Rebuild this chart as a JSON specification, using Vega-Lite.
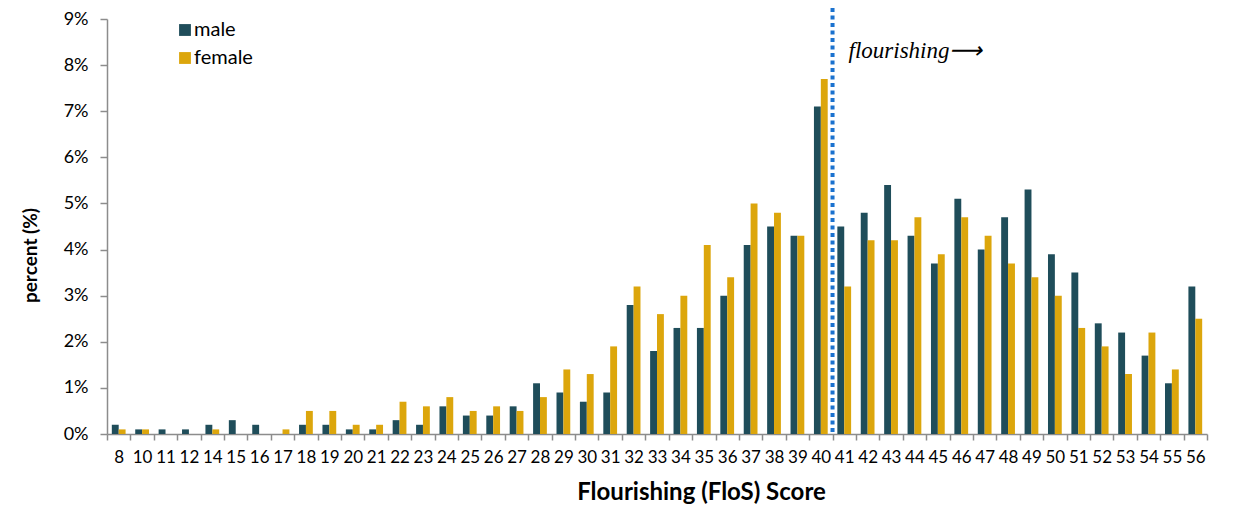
{
  "$schema": "https://vega.github.io/schema/vega-lite/v6.json",
  "width": 1100,
  "height": 415,
  "autosize": {"type": "none"},
  "padding": {"left": 107, "top": 19, "right": 26, "bottom": 73},
  "background": "white",
  "config": {
    "font": "Lato",
    "view": {"stroke": null},
    "axis": {"labelFont": "Lato", "titleFont": "Lato", "labelColor": "#000000", "titleColor": "#000000", "domainColor": "#8c8c8c", "tickColor": "#8c8c8c", "domainWidth": 1.5, "tickWidth": 1.5}
  },
  "datasets": {
    "bars": [
      {"score": "8", "sex": "male", "pct": 0.2}, {"score": "8", "sex": "female", "pct": 0.1},
      {"score": "10", "sex": "male", "pct": 0.1}, {"score": "10", "sex": "female", "pct": 0.1},
      {"score": "11", "sex": "male", "pct": 0.1}, {"score": "11", "sex": "female", "pct": 0.0},
      {"score": "12", "sex": "male", "pct": 0.1}, {"score": "12", "sex": "female", "pct": 0.0},
      {"score": "14", "sex": "male", "pct": 0.2}, {"score": "14", "sex": "female", "pct": 0.1},
      {"score": "15", "sex": "male", "pct": 0.3}, {"score": "15", "sex": "female", "pct": 0.0},
      {"score": "16", "sex": "male", "pct": 0.2}, {"score": "16", "sex": "female", "pct": 0.0},
      {"score": "17", "sex": "male", "pct": 0.0}, {"score": "17", "sex": "female", "pct": 0.1},
      {"score": "18", "sex": "male", "pct": 0.2}, {"score": "18", "sex": "female", "pct": 0.5},
      {"score": "19", "sex": "male", "pct": 0.2}, {"score": "19", "sex": "female", "pct": 0.5},
      {"score": "20", "sex": "male", "pct": 0.1}, {"score": "20", "sex": "female", "pct": 0.2},
      {"score": "21", "sex": "male", "pct": 0.1}, {"score": "21", "sex": "female", "pct": 0.2},
      {"score": "22", "sex": "male", "pct": 0.3}, {"score": "22", "sex": "female", "pct": 0.7},
      {"score": "23", "sex": "male", "pct": 0.2}, {"score": "23", "sex": "female", "pct": 0.6},
      {"score": "24", "sex": "male", "pct": 0.6}, {"score": "24", "sex": "female", "pct": 0.8},
      {"score": "25", "sex": "male", "pct": 0.4}, {"score": "25", "sex": "female", "pct": 0.5},
      {"score": "26", "sex": "male", "pct": 0.4}, {"score": "26", "sex": "female", "pct": 0.6},
      {"score": "27", "sex": "male", "pct": 0.6}, {"score": "27", "sex": "female", "pct": 0.5},
      {"score": "28", "sex": "male", "pct": 1.1}, {"score": "28", "sex": "female", "pct": 0.8},
      {"score": "29", "sex": "male", "pct": 0.9}, {"score": "29", "sex": "female", "pct": 1.4},
      {"score": "30", "sex": "male", "pct": 0.7}, {"score": "30", "sex": "female", "pct": 1.3},
      {"score": "31", "sex": "male", "pct": 0.9}, {"score": "31", "sex": "female", "pct": 1.9},
      {"score": "32", "sex": "male", "pct": 2.8}, {"score": "32", "sex": "female", "pct": 3.2},
      {"score": "33", "sex": "male", "pct": 1.8}, {"score": "33", "sex": "female", "pct": 2.6},
      {"score": "34", "sex": "male", "pct": 2.3}, {"score": "34", "sex": "female", "pct": 3.0},
      {"score": "35", "sex": "male", "pct": 2.3}, {"score": "35", "sex": "female", "pct": 4.1},
      {"score": "36", "sex": "male", "pct": 3.0}, {"score": "36", "sex": "female", "pct": 3.4},
      {"score": "37", "sex": "male", "pct": 4.1}, {"score": "37", "sex": "female", "pct": 5.0},
      {"score": "38", "sex": "male", "pct": 4.5}, {"score": "38", "sex": "female", "pct": 4.8},
      {"score": "39", "sex": "male", "pct": 4.3}, {"score": "39", "sex": "female", "pct": 4.3},
      {"score": "40", "sex": "male", "pct": 7.1}, {"score": "40", "sex": "female", "pct": 7.7},
      {"score": "41", "sex": "male", "pct": 4.5}, {"score": "41", "sex": "female", "pct": 3.2},
      {"score": "42", "sex": "male", "pct": 4.8}, {"score": "42", "sex": "female", "pct": 4.2},
      {"score": "43", "sex": "male", "pct": 5.4}, {"score": "43", "sex": "female", "pct": 4.2},
      {"score": "44", "sex": "male", "pct": 4.3}, {"score": "44", "sex": "female", "pct": 4.7},
      {"score": "45", "sex": "male", "pct": 3.7}, {"score": "45", "sex": "female", "pct": 3.9},
      {"score": "46", "sex": "male", "pct": 5.1}, {"score": "46", "sex": "female", "pct": 4.7},
      {"score": "47", "sex": "male", "pct": 4.0}, {"score": "47", "sex": "female", "pct": 4.3},
      {"score": "48", "sex": "male", "pct": 4.7}, {"score": "48", "sex": "female", "pct": 3.7},
      {"score": "49", "sex": "male", "pct": 5.3}, {"score": "49", "sex": "female", "pct": 3.4},
      {"score": "50", "sex": "male", "pct": 3.9}, {"score": "50", "sex": "female", "pct": 3.0},
      {"score": "51", "sex": "male", "pct": 3.5}, {"score": "51", "sex": "female", "pct": 2.3},
      {"score": "52", "sex": "male", "pct": 2.4}, {"score": "52", "sex": "female", "pct": 1.9},
      {"score": "53", "sex": "male", "pct": 2.2}, {"score": "53", "sex": "female", "pct": 1.3},
      {"score": "54", "sex": "male", "pct": 1.7}, {"score": "54", "sex": "female", "pct": 2.2},
      {"score": "55", "sex": "male", "pct": 1.1}, {"score": "55", "sex": "female", "pct": 1.4},
      {"score": "56", "sex": "male", "pct": 3.2}, {"score": "56", "sex": "female", "pct": 2.5}
    ],
    "marker": [{"score": "41", "label": "flourishing⟶", "pct": 8.3}]
  },
  "resolve": {"scale": {"x": "shared"}},
  "layer": [
    {
      "data": {"name": "bars"},
      "mark": {"type": "bar", "stroke": null},
      "encoding": {
        "x": {
          "field": "score", "type": "ordinal",
          "scale": {"domain": ["8","10","11","12","14","15","16","17","18","19","20","21","22","23","24","25","26","27","28","29","30","31","32","33","34","35","36","37","38","39","40","41","42","43","44","45","46","47","48","49","50","51","52","53","54","55","56"], "paddingInner": 0, "paddingOuter": 0},
          "axis": {
            "title": "Flourishing (FloS) Score", "titleFontSize": 24, "titleFontWeight": "bold",
            "titleX": 594, "titleY": 65, "titleBaseline": "alphabetic", "titleAnchor": "middle",
            "labelAngle": 0, "labelFontSize": 17, "labelPadding": 9, "tickBand": "extent", "tickSize": 6
          }
        },
        "xOffset": {"field": "sex", "sort": ["male", "female"], "scale": {"paddingOuter": 0.7, "paddingInner": 0}},
        "y": {
          "field": "pct", "type": "quantitative",
          "scale": {"domain": [0, 9], "nice": false},
          "axis": {
            "title": "percent (%)", "titleFontSize": 19, "titleFontWeight": "bold",
            "titleX": -77, "titleY": 236, "titleAngle": 270, "titleAlign": "center", "titleBaseline": "middle",
            "values": [0, 1, 2, 3, 4, 5, 6, 7, 8, 9], "labelExpr": "datum.value + '%'",
            "labelFontSize": 18, "labelPadding": 12, "tickSize": 7, "grid": false
          }
        },
        "color": {
          "field": "sex", "type": "nominal",
          "scale": {"domain": ["male", "female"], "range": ["#1f4d5a", "#dca60c"]},
          "legend": {
            "title": null, "orient": "none", "legendX": 68, "legendY": 1,
            "symbolType": "square", "symbolSize": 140, "symbolStrokeWidth": 0,
            "labelFontSize": 20, "labelFont": "Lato", "rowPadding": 8, "labelOffset": -1
          }
        }
      }
    },
    {
      "data": {"name": "marker"},
      "mark": {"type": "rule", "color": "#1b72cf", "strokeWidth": 4, "strokeDash": [4, 3.5], "y": -11, "y2": 415},
      "encoding": {
        "x": {"field": "score", "type": "ordinal", "bandPosition": 0}
      }
    },
    {
      "data": {"name": "marker"},
      "mark": {"type": "text", "font": "Liberation Serif", "fontStyle": "italic", "fontSize": 23, "align": "left", "baseline": "middle", "dx": 16, "color": "#000000"},
      "encoding": {
        "x": {"field": "score", "type": "ordinal", "bandPosition": 0},
        "y": {"field": "pct", "type": "quantitative"},
        "text": {"field": "label"}
      }
    }
  ]
}
